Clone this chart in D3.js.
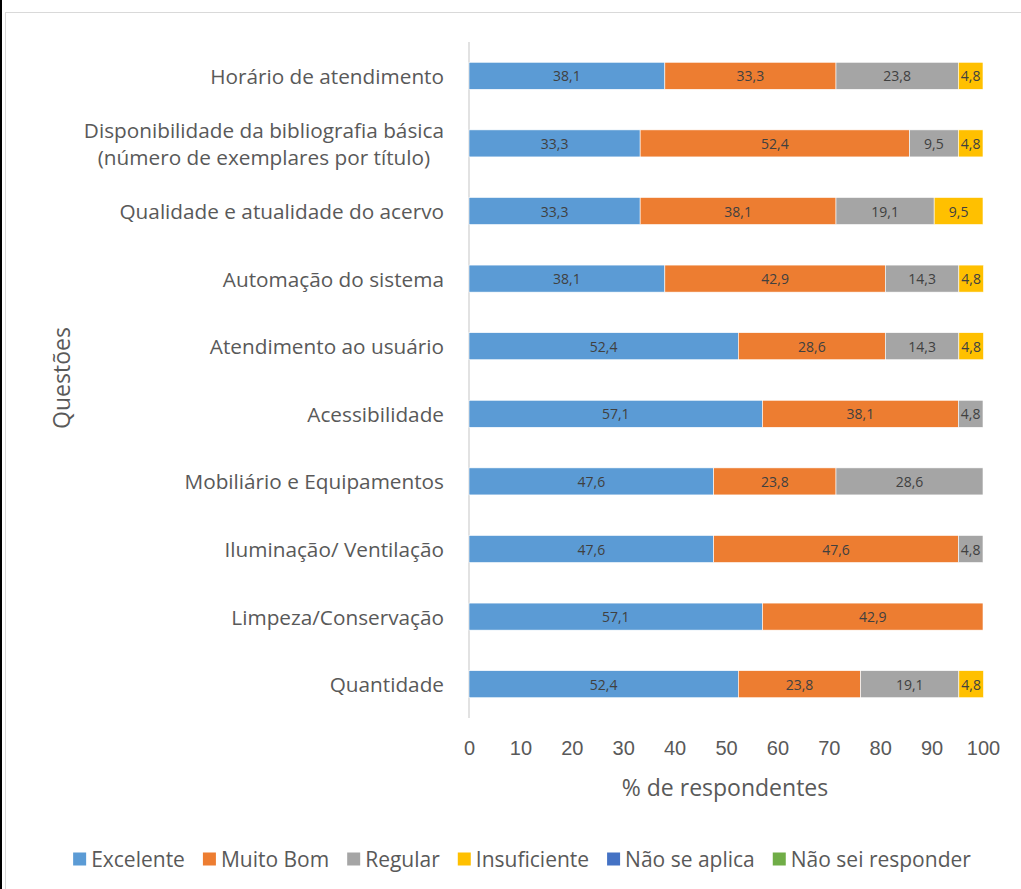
<!DOCTYPE html>
<html><head><meta charset="utf-8">
<script src="https://cdn.jsdelivr.net/npm/d3@7"></script>
<style>
html,body{margin:0;padding:0;background:#fff;}
svg{display:block;font-family:"Open Sans",sans-serif;}
</style></head>
<body>
<svg id="chart" width="1021" height="889"></svg>
<script>
const categories = [
  "Horário de atendimento",
  "Disponibilidade da bibliografia básica\n(número de exemplares por título)",
  "Qualidade e atualidade do acervo",
  "Automação do sistema",
  "Atendimento ao usuário",
  "Acessibilidade",
  "Mobiliário e Equipamentos",
  "Iluminação/ Ventilação",
  "Limpeza/Conservação",
  "Quantidade"
];
const seriesNames = ["Excelente","Muito Bom","Regular","Insuficiente","Não se aplica","Não sei responder"];
const seriesColors = ["#5B9BD5","#ED7D31","#A5A5A5","#FFC000","#4472C4","#70AD47"];
const excelente    = [38.1,33.3,33.3,38.1,52.4,57.1,47.6,47.6,57.1,52.4];
const muitoBom     = [33.3,52.4,38.1,42.9,28.6,38.1,23.8,47.6,42.9,23.8];
const regular      = [23.8, 9.5,19.1,14.3,14.3, 4.8,28.6, 4.8, 0  ,19.1];
const insuficiente = [ 4.8, 4.8, 9.5, 4.8, 4.8, 0  , 0  , 0  , 0  , 4.8];
const naoSeAplica  = [0,0,0,0,0,0,0,0,0,0];
const naoSei       = [0,0,0,0,0,0,0,0,0,0];
const xTicks = [0,10,20,30,40,50,60,70,80,90,100];
const xTitle = "% de respondentes";
const yTitle = "Questões";

const seriesValues = [excelente,muitoBom,regular,insuficiente,naoSeAplica,naoSei];
const rows = categories.map((c,i)=>{
  const r = {cat:c};
  seriesNames.forEach((s,j)=>r[s]=seriesValues[j][i]);
  return r;
});
const stack = d3.stack().keys(seriesNames)(rows);

const svg = d3.select("#chart");
// frame
svg.append("rect").attr("x",5.5).attr("y",12.5).attr("width",1030).attr("height",900)
  .attr("fill","#fff").attr("stroke","#d9d9d9").attr("stroke-width",1);
svg.append("rect").attr("x",0).attr("y",0).attr("width",2).attr("height",889).attr("fill","#000");

const pL = 469, pR = 983, pT = 42, pB = 718;
const x = d3.scaleLinear().domain([0,100]).range([pL,pR]);
const y = d3.scaleBand().domain(categories).range([pT,pB]).paddingInner(0.6).paddingOuter(0.3);

const g = svg.append("g");
// axis line
g.append("line").attr("x1",pL).attr("x2",pL).attr("y1",pT).attr("y2",pB)
  .attr("stroke","#d9d9d9").attr("stroke-width",1.5);

stack.forEach((layer,j)=>{
  const lg = g.append("g").attr("fill",seriesColors[j]);
  lg.selectAll("rect").data(layer.filter(d=>d[1]-d[0]>0)).join("rect")
    .attr("x",d=>x(d[0])).attr("width",d=>x(d[1])-x(d[0]))
    .attr("y",d=>y(d.data.cat)).attr("height",y.bandwidth())
    .attr("stroke","#fff").attr("stroke-width",0.6);
  lg.selectAll("text").data(layer.filter(d=>d[1]-d[0]>0)).join("text")
    .attr("x",d=>(x(d[0])+x(d[1]))/2).attr("y",d=>y(d.data.cat)+y.bandwidth()/2)
    .attr("text-anchor","middle").attr("dominant-baseline","central")
    .attr("fill","#404040").attr("font-size",14)
    .text(d=>d3.format(".1f")(d[1]-d[0]).replace(".",","));
});

// x axis
const xAxis = d3.axisBottom(x).tickValues(xTicks).tickSize(0).tickPadding(0);
const xa = g.append("g").attr("transform",`translate(0,${pB+30})`).call(xAxis);
xa.select(".domain").remove();
xa.selectAll("text").attr("fill","#595959").attr("font-size",20).attr("font-family",null)
  .attr("dy",null).attr("dominant-baseline","central").attr("y",0);

// y axis labels
const yAxis = d3.axisLeft(y).tickSize(0).tickPadding(0).tickFormat("");
const ya = g.append("g").attr("transform",`translate(${pL},0)`).call(yAxis);
ya.select(".domain").remove();
const catFs = 20.75;
categories.forEach(c=>{
  const lines = c.split("\n");
  const cy = y(c)+y.bandwidth()/2;
  if(lines.length===1){
    g.append("text").attr("fill","#595959").attr("font-size",catFs)
      .attr("x",444).attr("y",cy).attr("text-anchor","end").attr("dominant-baseline","central").text(c);
  } else {
    const ws = lines.map(l=>{const s=g.append("text").attr("font-size",catFs).text(l);const w=s.node().getComputedTextLength();s.remove();return w;});
    const cx = 444 - d3.max(ws)/2;
    lines.forEach((l,k)=>{
      g.append("text").attr("fill","#595959").attr("font-size",catFs)
        .attr("x",cx).attr("y",cy+(k-(lines.length-1)/2)*27)
        .attr("text-anchor","middle").attr("dominant-baseline","central").text(l);
    });
  }
});

// titles
svg.append("text").attr("x",725).attr("y",787).attr("text-anchor","middle")
  .attr("dominant-baseline","central").attr("fill","#595959").attr("font-size",23).text(xTitle);
svg.append("text").attr("transform","translate(61,378) rotate(-90)").attr("text-anchor","middle")
  .attr("dominant-baseline","central").attr("fill","#595959").attr("font-size",23).text(yTitle);

// legend
const leg = svg.append("g");
let cxp = 0;
seriesNames.forEach((s,j)=>{
  const it = leg.append("g");
  it.append("rect").attr("x",0).attr("y",-6.5).attr("width",13).attr("height",13).attr("fill",seriesColors[j]);
  const tx = it.append("text").attr("x",18).attr("y",0).attr("dominant-baseline","central")
    .attr("fill","#595959").attr("font-size",21).text(s);
  const w = 18 + tx.node().getComputedTextLength();
  it.attr("transform",`translate(${cxp},859)`);
  cxp += w + 18;
});
const total = cxp - 18;
leg.attr("transform",`translate(${522 - total/2},0)`);
</script>
</body></html>
